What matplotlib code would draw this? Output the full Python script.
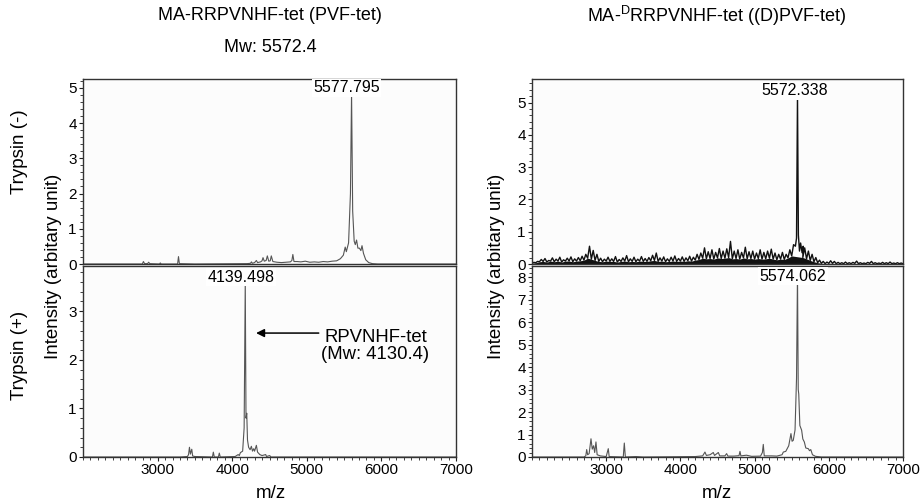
import numpy as np
import matplotlib
matplotlib.use("Agg")
import matplotlib.pyplot as plt
from matplotlib.ticker import MultipleLocator

plt.rcParams['font.family'] = ['Liberation Sans', 'DejaVu Sans']
plt.rcParams['mathtext.fontset'] = 'custom'
plt.rcParams['mathtext.rm'] = 'Liberation Sans'

# ---------------- data (m/z, intensity) ----------------
# PVF-tet, trypsin (-)
pvf_minus_mz = [2000, 2795, 2810, 2825, 2865, 2880, 2895, 3025, 3036, 3048, 3268, 3280, 3292, 3500,
                4200, 4245, 4258, 4270, 4300, 4324, 4340, 4380, 4400, 4413, 4430, 4455, 4471, 4490,
                4510, 4524, 4545, 4600, 4660, 4720, 4780, 4800, 4813, 4828, 4870, 4920, 4980, 5040,
                5100, 5160, 5220, 5280, 5340, 5400, 5450, 5490, 5515, 5530, 5560, 5585, 5600, 5615,
                5635, 5650, 5667, 5685, 5705, 5725, 5740, 5760, 5790, 5830, 5880, 5950, 7000]
pvf_minus_int = [0, 0, 0.07, 0.01, 0.01, 0.05, 0.01, 0, 0.03, 0, 0, 0.21, 0.01, 0,
                 0.01, 0.02, 0.06, 0.02, 0.04, 0.10, 0.04, 0.06, 0.09, 0.18, 0.08, 0.10, 0.23, 0.08,
                 0.09, 0.23, 0.07, 0.05, 0.04, 0.05, 0.06, 0.10, 0.27, 0.07, 0.07, 0.06, 0.08, 0.05,
                 0.06, 0.05, 0.07, 0.06, 0.08, 0.09, 0.15, 0.25, 0.48, 0.35, 0.60, 2.0, 4.85, 1.5,
                 0.65, 0.55, 0.68, 0.45, 0.45, 0.38, 0.52, 0.30, 0.12, 0.04, 0.01, 0, 0]

# PVF-tet, trypsin (+)
pvf_plus_mz = [2000, 3300, 3400, 3415, 3427, 3440, 3458, 3470, 3500, 3735, 3747, 3760, 3815, 3827, 3840,
               4040, 4080, 4095, 4110, 4140, 4160, 4175, 4185, 4195, 4205, 4220, 4240, 4257, 4272,
               4288, 4300, 4324, 4340, 4370, 4400, 4449, 4460, 4502, 4520, 7000]
pvf_plus_int = [0, 0, 0.01, 0.05, 0.20, 0.06, 0.16, 0.02, 0.01, 0, 0.10, 0, 0, 0.08, 0,
                0.01, 0.05, 0.03, 0.09, 0.12, 0.6, 3.6, 0.8, 0.9, 0.35, 0.2, 0.15, 0.22, 0.12,
                0.17, 0.12, 0.24, 0.10, 0.05, 0.03, 0.05, 0.01, 0.03, 0, 0]

# (D)PVF-tet, trypsin (-): noisy trace (spike tops / valleys every 50 m/z) + main peak
dpvf_noise_left_start = 2025
dpvf_noise_left_high = [0.05, 0.08, 0.14, 0.17, 0.11, 0.19, 0.15, 0.21, 0.13, 0.18, 0.22, 0.16, 0.20,
                        0.24, 0.30, 0.55, 0.42, 0.30, 0.18, 0.15, 0.21, 0.16, 0.23, 0.14, 0.19, 0.26,
                        0.16, 0.21, 0.15, 0.23, 0.17, 0.20, 0.27, 0.34, 0.19, 0.22, 0.16, 0.21, 0.25,
                        0.17, 0.22, 0.19, 0.24, 0.21, 0.30, 0.34, 0.50, 0.38, 0.44, 0.36, 0.48, 0.40,
                        0.47, 0.70, 0.40, 0.44, 0.36, 0.52, 0.38, 0.40, 0.34, 0.44, 0.36, 0.40, 0.46,
                        0.34, 0.30, 0.36, 0.30, 0.44, 0.60]
dpvf_noise_left_low = [0.02, 0.04, 0.07, 0.08, 0.06, 0.09, 0.07, 0.09, 0.06, 0.09, 0.09, 0.07, 0.09,
                       0.10, 0.12, 0.18, 0.15, 0.11, 0.08, 0.07, 0.09, 0.08, 0.08, 0.06, 0.08, 0.09,
                       0.07, 0.08, 0.07, 0.09, 0.08, 0.08, 0.10, 0.11, 0.08, 0.09, 0.07, 0.08, 0.09,
                       0.08, 0.09, 0.08, 0.10, 0.09, 0.12, 0.14, 0.18, 0.16, 0.17, 0.15, 0.19, 0.17,
                       0.18, 0.20, 0.16, 0.17, 0.15, 0.19, 0.16, 0.17, 0.15, 0.17, 0.15, 0.16, 0.18,
                       0.15, 0.13, 0.15, 0.14, 0.19, 0.25]
dpvf_peak_mz = [5550, 5565, 5578, 5590, 5605, 5620, 5640, 5655]
dpvf_peak_int = [0.55, 0.80, 5.2, 0.90, 0.40, 0.65, 0.35, 0.55]
dpvf_noise_right_start = 5675
dpvf_noise_right_high = [0.50, 0.40, 0.30, 0.20, 0.12, 0.08, 0.06, 0.10, 0.08, 0.05, 0.04, 0.06, 0.04,
                         0.05, 0.09, 0.04, 0.03, 0.05, 0.08, 0.04, 0.03, 0.05, 0.04, 0.06, 0.03, 0.04,
                         0.03]
dpvf_noise_right_low = [0.20, 0.16, 0.11, 0.07, 0.04, 0.02, 0.01, 0.02, 0.02, 0.01, 0.01, 0.01, 0.01,
                        0.01, 0.02, 0.01, 0.01, 0.01, 0.02, 0.01, 0.01, 0.01, 0.01, 0.01, 0.01, 0.01,
                        0.01]

# (D)PVF-tet, trypsin (+)
dpvf_plus_mz = [2000, 2700, 2725, 2737, 2750, 2770, 2795, 2812, 2830, 2845, 2862, 2878, 2920, 3000,
                3028, 3040, 3230, 3244, 3258, 3400, 3500, 4200, 4300, 4331, 4350, 4400, 4443, 4460,
                4511, 4530, 4600, 4623, 4640, 4720, 4790, 4803, 4815, 4890, 4960, 5080, 5105, 5117,
                5130, 5230, 5300, 5370, 5387, 5420, 5460, 5490, 5505, 5521, 5545, 5565, 5578, 5588,
                5595, 5610, 5634, 5650, 5670, 5690, 5724, 5740, 5757, 5780, 5820, 5900, 7000]
dpvf_plus_int = [0, 0, 0.05, 0.33, 0.10, 0.15, 0.81, 0.35, 0.50, 0.20, 0.67, 0.10, 0.05, 0.02,
                 0.37, 0.02, 0, 0.62, 0, 0.02, 0, 0.02, 0.05, 0.22, 0.07, 0.10, 0.20, 0.07,
                 0.20, 0.05, 0.05, 0.15, 0.04, 0.04, 0.06, 0.25, 0.05, 0.08, 0.03, 0.04, 0.20, 0.56,
                 0.05, 0.05, 0.04, 0.10, 0.22, 0.25, 0.50, 1.04, 0.70, 0.74, 1.2, 3.5, 8.2, 3.0,
                 2.8, 1.4, 1.19, 0.80, 0.67, 0.40, 0.37, 0.28, 0.33, 0.10, 0.03, 0, 0]

peak_labels = ["5577.795", "4139.498", "5572.338", "5574.062"]
titles = ["MA-RRPVNHF-tet (PVF-tet)", r"MA-$^{\mathrm{D}}$RRPVNHF-tet ((D)PVF-tet)"]


def interleave(start, high, low):
    xs, ys = [], []
    for i, (h, l) in enumerate(zip(high, low)):
        xs += [start + 50 * i - 25, start + 50 * i]
        ys += [l, h]
    return xs, ys


xl, yl = interleave(dpvf_noise_left_start, dpvf_noise_left_high, dpvf_noise_left_low)
xr, yr = interleave(dpvf_noise_right_start, dpvf_noise_right_high, dpvf_noise_right_low)
dpvf_minus_mz = [2000] + xl + dpvf_peak_mz + xr + [7000]
dpvf_minus_int = [0.02] + yl + dpvf_peak_int + yr + [0.01]
low_x = [x for x in xl[0::2]] + [x for x in xr[0::2]]
low_y = [y for y in yl[0::2]] + [y for y in yr[0::2]]

# ---------------- figure ----------------
W, H = 922, 504
fig = plt.figure(figsize=(W / 100, H / 100), dpi=100)


def ax_at(x0, y0, x1, y1):
    return fig.add_axes([x0 / W, 1 - y1 / H, (x1 - x0) / W, (y1 - y0) / H])


axes = {
    'lt': ax_at(83, 79, 456, 264),
    'lb': ax_at(83, 266, 456, 457),
    'rt': ax_at(532, 79, 903, 264),
    'rb': ax_at(532, 266, 903, 457),
}
ylims = {'lt': 5.25, 'lb': 3.93, 'rt': 5.73, 'rb': 8.49}

for key, ax in axes.items():
    ax.set_facecolor('#fcfcfc')
    ax.set_xlim(2000, 7000)
    ax.set_ylim(0, ylims[key])
    ax.xaxis.set_major_locator(MultipleLocator(1000))
    ax.xaxis.set_minor_locator(MultipleLocator(100))
    ax.yaxis.set_major_locator(MultipleLocator(1))
    ax.yaxis.set_minor_locator(MultipleLocator(0.2))
    ax.tick_params(axis='both', which='major', direction='out', length=3, width=0.8,
                   labelsize=11, pad=1.5, color='#222')
    ax.tick_params(axis='both', which='minor', direction='out', length=2, width=0.6, color='#222')
    for s in ax.spines.values():
        s.set_color('#333')
        s.set_linewidth(1.0)
    if key.endswith('t'):
        ax.tick_params(axis='x', which='both', labelbottom=False, length=0)
    else:
        ax.set_xticks([3000, 4000, 5000, 6000, 7000])

axes['lt'].plot(pvf_minus_mz, pvf_minus_int, color='#555', lw=0.8)
axes['lb'].plot(pvf_plus_mz, pvf_plus_int, color='#555', lw=0.8)
axes['rt'].fill_between(low_x, 0, low_y, color='#111', lw=0)
axes['rt'].plot(dpvf_minus_mz, dpvf_minus_int, color='#111', lw=1.0)
axes['rb'].plot(dpvf_plus_mz, dpvf_plus_int, color='#555', lw=0.8)

box = dict(facecolor='white', edgecolor='none', pad=1.0)
lab_fs = 11.5
axes['lt'].text(5533, 5.0, peak_labels[0], ha='center', va='center', fontsize=lab_fs, bbox=box, zorder=5)
axes['lb'].text(4120, 3.70, peak_labels[1], ha='center', va='center', fontsize=lab_fs, bbox=box, zorder=5)
axes['rt'].text(5545, 5.37, peak_labels[2], ha='center', va='center', fontsize=lab_fs, bbox=box, zorder=5)
axes['rb'].text(5518, 8.04, peak_labels[3], ha='center', va='center', fontsize=lab_fs, bbox=box, zorder=5)

axes['lb'].annotate('', xy=(4320, 2.55), xytext=(5160, 2.55),
                    arrowprops=dict(arrowstyle='-|>', color='black', lw=1.1,
                                    mutation_scale=12, shrinkA=0, shrinkB=0))
axes['lb'].text(5920, 2.28, 'RPVNHF-tet\n(Mw: 4130.4)', ha='center', va='center',
                fontsize=13.3, linespacing=1.0)


# titles and side labels in figure pixel coordinates
def ftext(x, y, s, **kw):
    fig.text(x / W, 1 - y / H, s, ha='center', va='center', **kw)


ftext(270, 16, titles[0], fontsize=13)
ftext(270, 47, 'Mw: 5572.4', fontsize=13)
ftext(717, 16, titles[1], fontsize=13)
ftext(19, 152, 'Trypsin (-)', fontsize=13.5, rotation=90)
ftext(19, 355, 'Trypsin (+)', fontsize=13.5, rotation=90)
ftext(54, 266, 'Intensity (arbitary unit)', fontsize=13.5, rotation=90)
ftext(496, 266, 'Intensity (arbitary unit)', fontsize=13.5, rotation=90)
ftext(271, 493, 'm/z', fontsize=13.5)
ftext(717, 493, 'm/z', fontsize=13.5)

fig.savefig('out.png', dpi=100, facecolor='white')
